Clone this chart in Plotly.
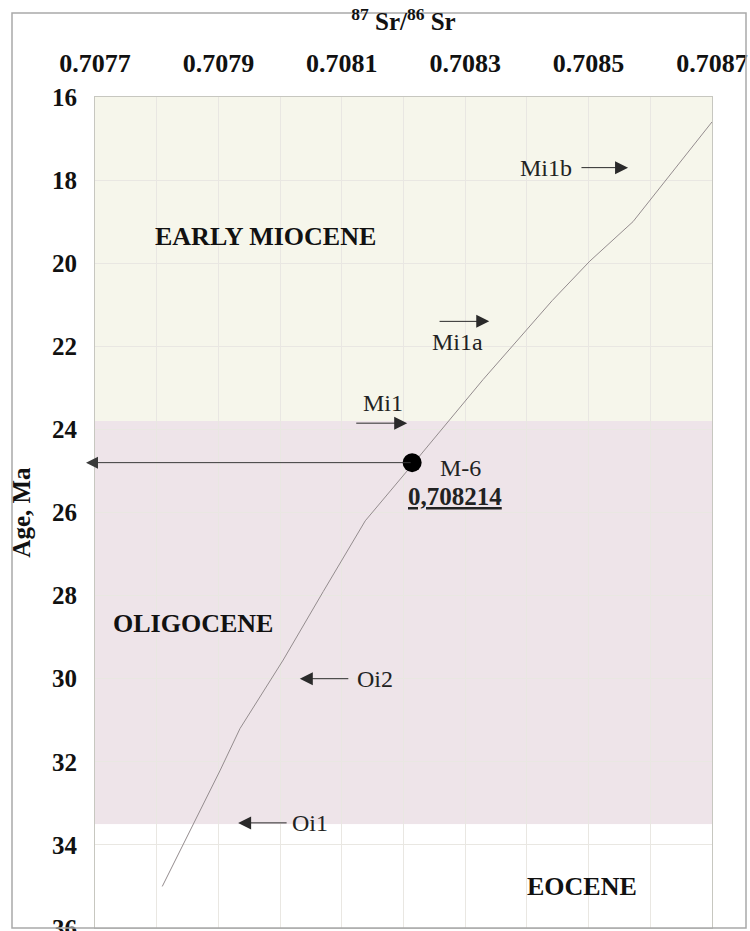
import plotly.graph_objects as go

# Seawater 87Sr/86Sr reference curve: ratio vs. age (Ma)
curve_sr = [0.707809, 0.707903, 0.707935, 0.708005, 0.708070, 0.708138,
            0.708220, 0.708329, 0.708441, 0.708502, 0.708572, 0.708700]
curve_age = [35.0, 32.2, 31.2, 29.55, 27.9, 26.2,
             24.75, 22.8, 20.9, 19.95, 19.0, 16.6]

# Measured sample
sample_name = "M-6"
sample_sr = 0.708214
sample_age = 24.8

# Epoch intervals (Ma)
epoch_names = ["EARLY MIOCENE", "OLIGOCENE", "EOCENE"]
epoch_top = [16.0, 23.8, 33.5]
epoch_base = [23.8, 33.5, 36.0]

# Glacial events and their ages (Ma)
event_names = ["Mi1b", "Mi1a", "Mi1", "Oi2", "Oi1"]
event_ages = [17.7, 21.4, 23.85, 30.0, 33.47]

sr_ticks = [0.7077, 0.7079, 0.7081, 0.7083, 0.7085, 0.7087]
age_ticks = [16, 18, 20, 22, 24, 26, 28, 30, 32, 34, 36]

SERIF = "Liberation Serif, Times New Roman, serif"
W, H = 750, 931
ML, MR, MT, MB = 95, 38, 97, 3

epoch_fill = {"EARLY MIOCENE": "#f6f6eb", "OLIGOCENE": "#eee4e9", "EOCENE": "#ffffff"}
epoch_label_pos = {"EARLY MIOCENE": (0.707976, 19.35),
                   "OLIGOCENE": (0.707859, 28.68),
                   "EOCENE": (0.708489, 35.0)}
# arrow tail, arrow head, label x, label age
event_layout = {
    "Mi1b": (0.708486, 0.708564, 0.708431, None),
    "Mi1a": (0.708256, 0.708339, 0.708288, 21.9),
    "Mi1":  (0.708121, 0.708206, 0.708167, 23.36),
    "Oi2":  (0.708113, 0.708032, 0.708154, None),
    "Oi1":  (0.708013, 0.707932, 0.708048, None),
}

fig = go.Figure()

fig.add_trace(go.Scatter(
    x=curve_sr, y=curve_age, mode="lines",
    line=dict(color="#948c8e", width=1),
    hoverinfo="skip", showlegend=False,
))
fig.add_trace(go.Scatter(
    x=[sample_sr], y=[sample_age], mode="markers",
    marker=dict(color="#000000", size=19),
    showlegend=False,
))

shapes = []
for name, top, base in zip(epoch_names, epoch_top, epoch_base):
    shapes.append(dict(type="rect", xref="x domain", yref="y",
                       x0=0, x1=1, y0=top, y1=base,
                       fillcolor=epoch_fill[name], line_width=0, layer="below"))

# outer frame around the whole figure
pw, ph = W - ML - MR, H - MT - MB
def px_x(p):
    return (p - ML) / pw
def px_y(p):
    return (H - MB - p) / ph
shapes.append(dict(type="rect", xref="paper", yref="paper",
                   x0=px_x(12), x1=px_x(746), y0=px_y(928), y1=px_y(13),
                   line=dict(color="#a9a9a9", width=1.5), fillcolor="rgba(0,0,0,0)",
                   layer="above"))

annotations = []
for name in epoch_names:
    xs, ys = epoch_label_pos[name]
    annotations.append(dict(x=xs, y=ys, xref="x", yref="y", text=f"<b>{name}</b>",
                            showarrow=False,
                            font=dict(family=SERIF, size=26, color="#111111")))

for name, age in zip(event_names, event_ages):
    tail, head, lx, lage = event_layout[name]
    annotations.append(dict(x=head, y=age, ax=tail, ay=age, xref="x", yref="y",
                            axref="x", ayref="y", text="", showarrow=True,
                            arrowhead=2, arrowsize=2.6, arrowwidth=1,
                            arrowcolor="#2a2a2a"))
    annotations.append(dict(x=lx, y=lage if lage is not None else age,
                            xref="x", yref="y", text=name, showarrow=False,
                            font=dict(family=SERIF, size=24, color="#222222")))

# arrow from the sample to the age axis
annotations.append(dict(x=0.7077 - 9 / (pw / 0.001), y=sample_age,
                        ax=sample_sr, ay=sample_age,
                        xref="x", yref="y", axref="x", ayref="y", text="",
                        showarrow=True, arrowhead=2, arrowsize=2.4, arrowwidth=1,
                        arrowcolor="#3a3a3a", startstandoff=0))
annotations.append(dict(x=0.708256, y=24.93, xref="x", yref="y", text=sample_name,
                        xanchor="left", showarrow=False,
                        font=dict(family=SERIF, size=24, color="#222222")))
sample_label = f"{sample_sr:.6f}".replace(".", ",")
annotations.append(dict(x=0.708283, y=25.62, xref="x", yref="y",
                        text=f"<b><u>{sample_label}</u></b>", showarrow=False,
                        font=dict(family=SERIF, size=25, color="#222222")))

grid = "#e9e7e2"
fig.update_layout(
    width=W, height=H,
    margin=dict(l=ML, r=MR, t=MT, b=MB, autoexpand=False),
    paper_bgcolor="#ffffff", plot_bgcolor="rgba(0,0,0,0)",
    shapes=shapes, annotations=annotations,
    showlegend=False,
    xaxis=dict(
        side="top", range=[0.7077, 0.7087], automargin=False,
        tickmode="array", tickvals=sr_ticks,
        ticktext=[f"{v:.4f}" for v in sr_ticks],
        tickfont=dict(family=SERIF, size=26, color="#111111", weight="bold"),
        ticks="", ticklabelstandoff=14, ticklabeloverflow="allow",
        showgrid=True, gridcolor=grid, gridwidth=1,
        minor=dict(tickmode="linear", tick0=0.7077, dtick=0.0001,
                   showgrid=True, gridcolor=grid, ticks=""),
        showline=True, linecolor="#c7c7c0", linewidth=1, mirror=True,
        zeroline=False,
        title=dict(text="<sup>87</sup> Sr/<sup>86</sup> Sr", standoff=10,
                   font=dict(family=SERIF, size=25, color="#111111", weight="bold")),
    ),
    yaxis=dict(
        range=[36, 16], tickmode="array", tickvals=age_ticks, automargin=False,
        ticktext=[str(v) for v in age_ticks],
        tickfont=dict(family=SERIF, size=25, color="#111111", weight="bold"),
        ticks="", ticklabelstandoff=12, ticklabeloverflow="allow",
        showgrid=True, gridcolor=grid, gridwidth=1,
        showline=True, linecolor="#c7c7c0", linewidth=1, mirror=True,
        zeroline=False,
        title=dict(text="Age, Ma", standoff=14,
                   font=dict(family=SERIF, size=25, color="#111111", weight="bold")),
    ),
)

fig.write_html("out.html")
